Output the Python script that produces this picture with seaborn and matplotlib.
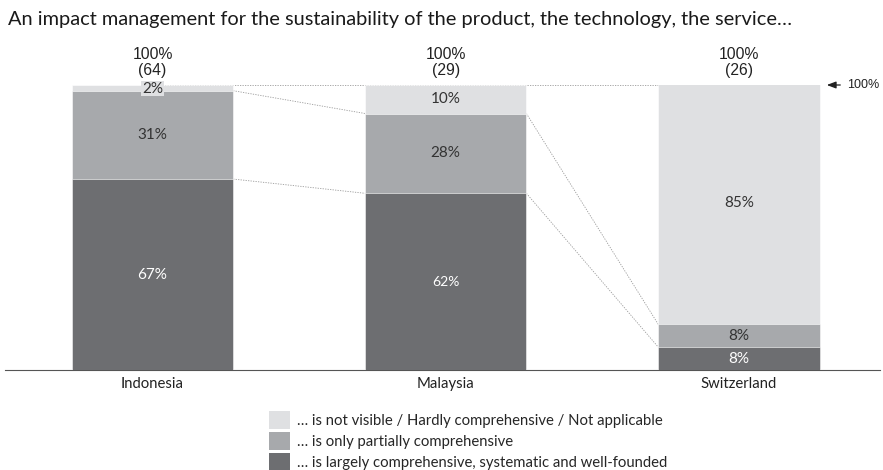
import matplotlib
matplotlib.use("Agg")
import matplotlib.pyplot as plt
from matplotlib.patches import Patch
import numpy as np
import pandas as pd
import seaborn as sns

countries = ["Indonesia", "Malaysia", "Switzerland"]
respondents = [64, 29, 26]
largely = [67, 62, 8]        # largely comprehensive, systematic and well-founded
partially = [31, 28, 8]      # only partially comprehensive
not_visible = [2, 10, 85]    # not visible / hardly comprehensive / not applicable

legend_labels = [
    "… is not visible / Hardly comprehensive / Not applicable",
    "… is only partially comprehensive",
    "… is largely comprehensive, systematic and well-founded",
]
title = "An impact management for the sustainability of the product, the technology, the service…"

c_dark, c_mid, c_light = "#6d6e71", "#a7a9ac", "#dfe0e2"

sns.set_theme(style="white")
plt.rcParams["font.family"] = ["Lato", "DejaVu Sans"]

W, H = 883, 470
fig = plt.figure(figsize=(W / 100, H / 100), dpi=100)
ax = fig.add_axes([5 / W, 100 / H, 875 / W, 285 / H])

df = pd.DataFrame({
    "country": countries,
    "dark": largely,
    "mid": np.array(largely) + np.array(partially),
    "top": np.array(largely) + np.array(partially) + np.array(not_visible),
})

bw = 0.55
for col, colr in [("top", c_light), ("mid", c_mid), ("dark", c_dark)]:
    sns.barplot(data=df, x="country", y=col, color=colr, width=bw, ax=ax,
                order=countries, edgecolor="white", linewidth=0.4, zorder=3,
                saturation=1)

ax.set_xlim(-0.503, 2.481)
ax.set_ylim(0, 100)
ax.set_xlabel("")
ax.set_ylabel("")
ax.set_yticks([])
ax.tick_params(axis="x", length=0, pad=5)
for lab in ax.get_xticklabels():
    lab.set_fontsize(10.7)
    lab.set_color("#222222")
for s in ["top", "right", "left"]:
    ax.spines[s].set_visible(False)
ax.spines["bottom"].set_color("#555555")
ax.spines["bottom"].set_linewidth(0.8)

# dotted 100% reference line and connectors between segment boundaries
line_kw = dict(color="#9a9a9a", lw=0.6, ls=(0, (1.5, 1.5)), zorder=2)
ax.plot([0, 2], [100, 100], **line_kw)
bounds = [df["dark"].values, df["mid"].values]
for b in bounds:
    for i in range(len(countries) - 1):
        ax.plot([i + bw / 2, i + 1 - bw / 2], [b[i], b[i + 1]], **line_kw)

ax.annotate("", xy=(2 + bw / 2 + 0.015, 100), xytext=(2 + bw / 2 + 0.08, 100),
            arrowprops=dict(arrowstyle="-|>,head_length=0.45,head_width=0.17",
                            color="#222222", lw=0.9), annotation_clip=False)
ax.text(2 + bw / 2 + 0.092, 100, "100%", ha="left", va="center", fontsize=9,
        family="Liberation Sans", color="#222222", clip_on=False)

# segment value labels
for i in range(len(countries)):
    segs = [(0, largely[i], "white"), (largely[i], partially[i], "#333333"),
            (largely[i] + partially[i], not_visible[i], "#333333")]
    for j, (base, val, tc) in enumerate(segs):
        y = base + val / 2
        kw = {}
        if val < 4:
            kw["bbox"] = dict(boxstyle="square,pad=0.05", fc=c_light, ec="none")
            y = base + val / 2 - 0.3
        fs = 10 if (j == 0 and i == 1) else 11
        ax.text(i, y, f"{val}%", ha="center", va="center", fontsize=fs,
                color=tc, zorder=5, **kw)
    ax.text(i, 102.6, f"100%\n({respondents[i]})", ha="center",
            va="bottom", fontsize=11.3, family="Liberation Sans", color="#222222",
            linespacing=1.05, clip_on=False)

fig.text(8 / W, 1 - 20 / H, title, ha="left", va="center", fontsize=14.4,
         color="#1a1a1a")

handles = [Patch(fc=c_light, ec="none"), Patch(fc=c_mid, ec="none"),
           Patch(fc=c_dark, ec="none")]
fig.legend(handles, legend_labels, loc="upper left",
           bbox_to_anchor=(269 / W, 1 - 411 / H), frameon=False, fontsize=10.7,
           handlelength=1.4, handleheight=1.5, labelspacing=0.18,
           handletextpad=0.5, borderaxespad=0, borderpad=0)

fig.savefig("out.png", dpi=100)
